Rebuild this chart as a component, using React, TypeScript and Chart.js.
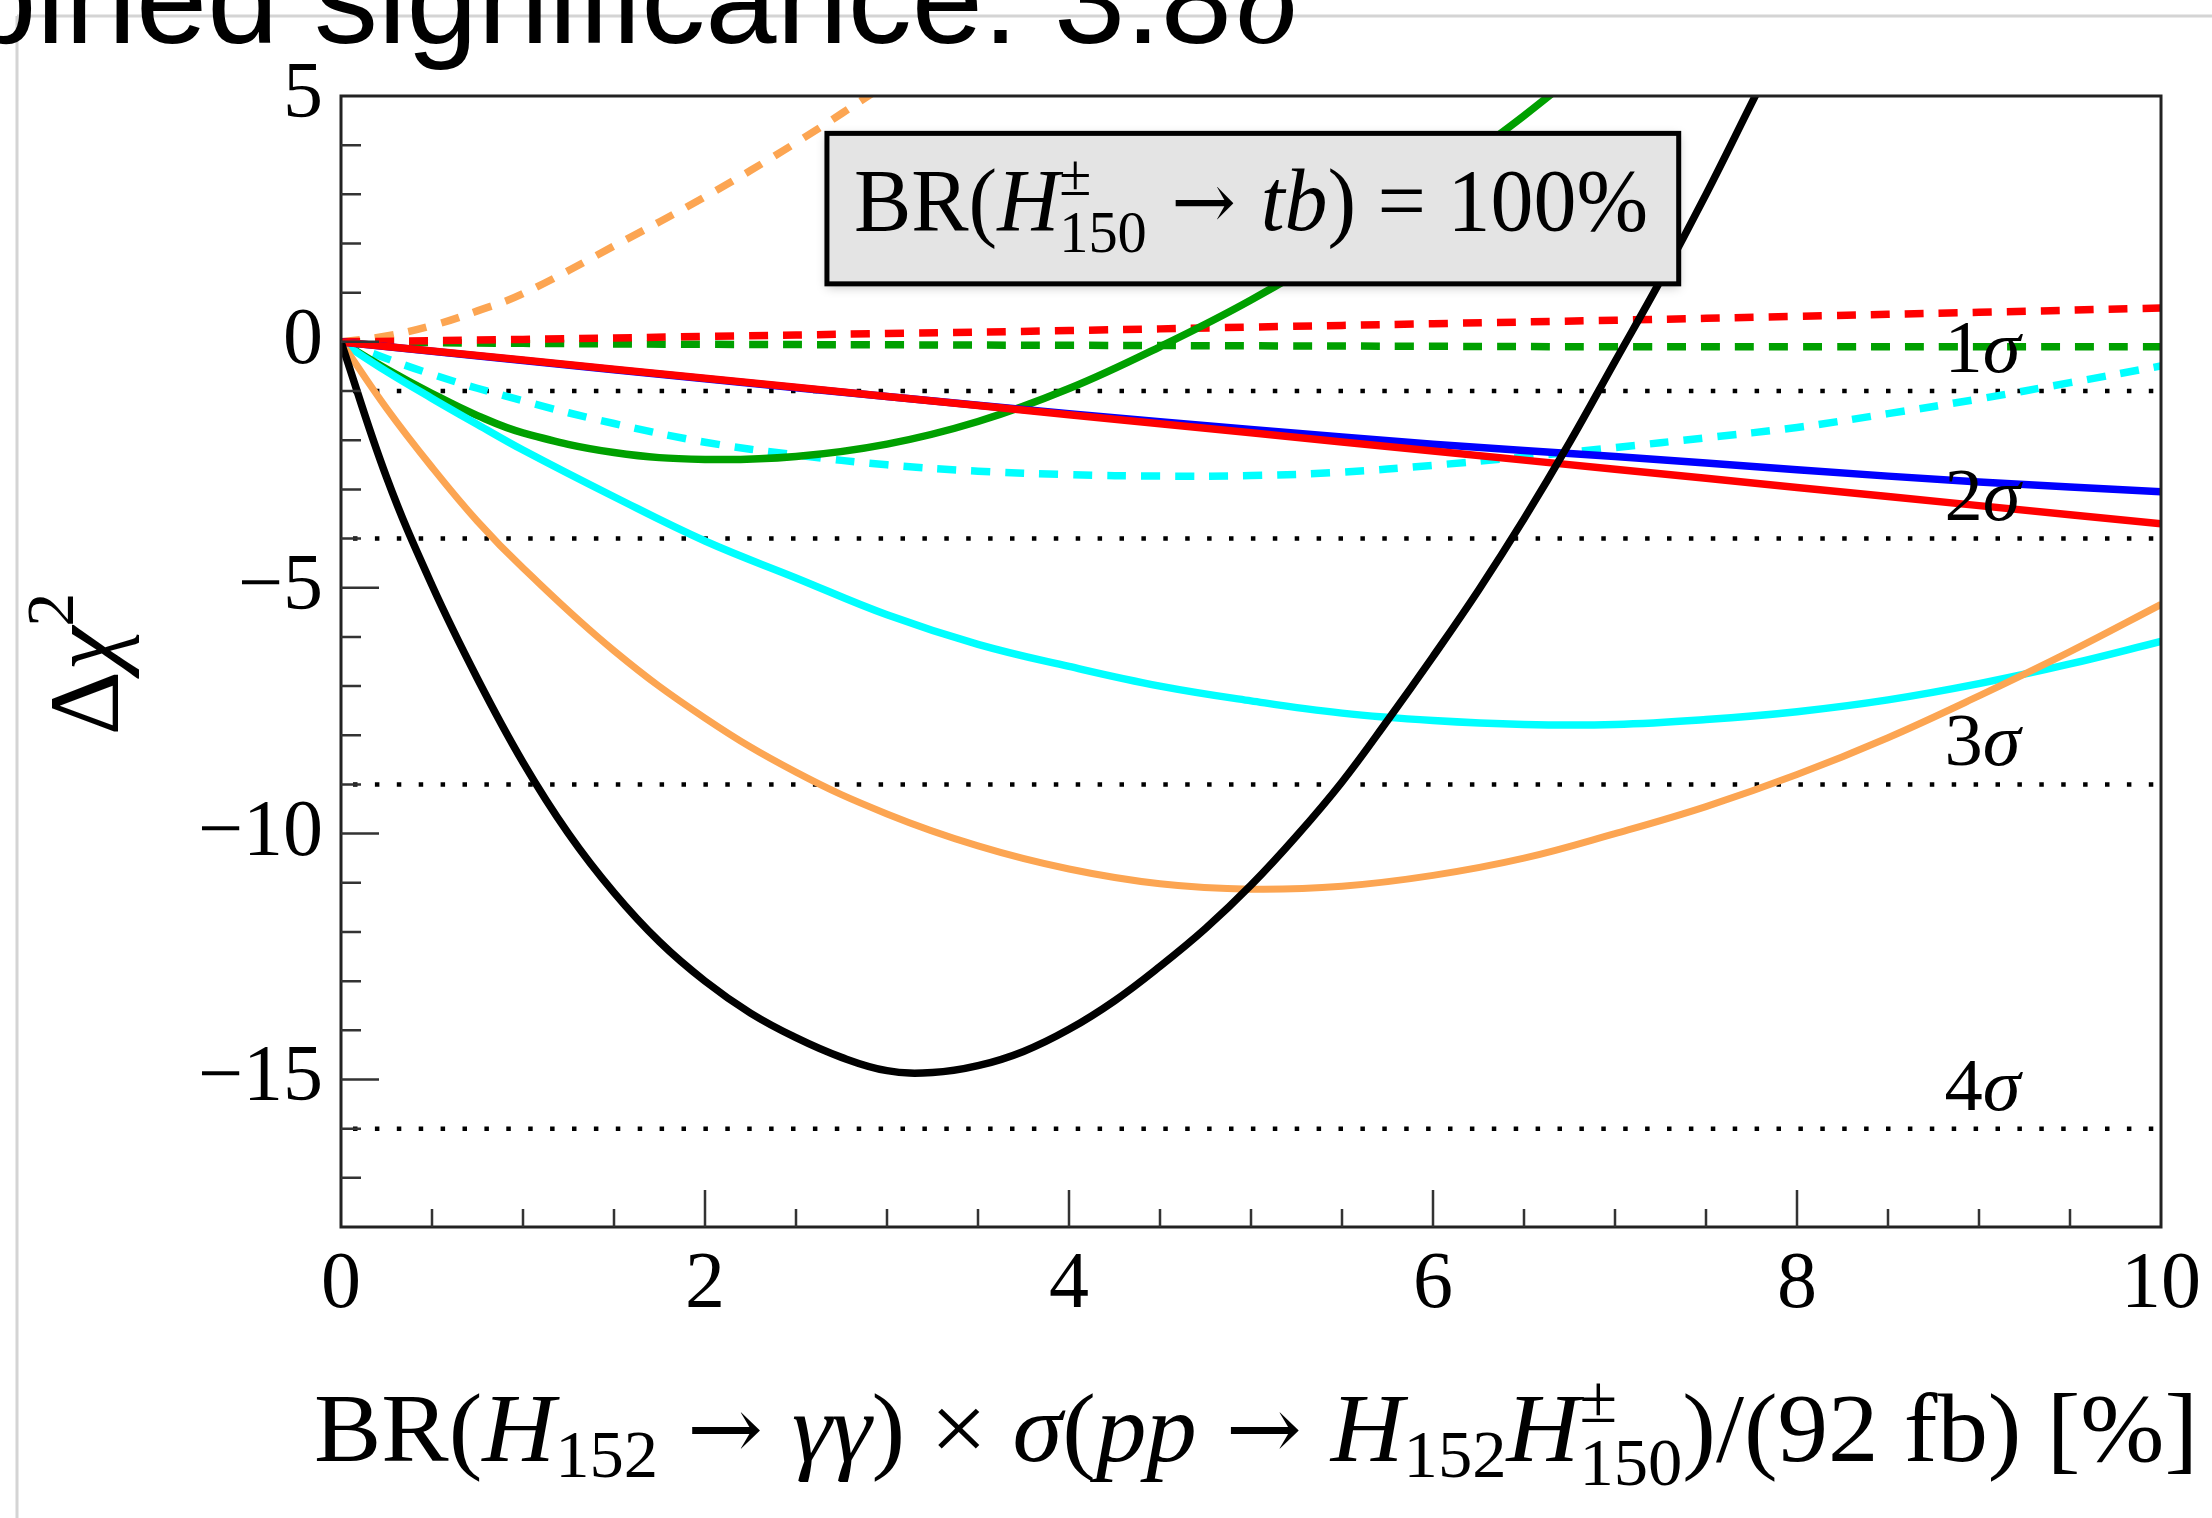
import React, { useEffect, useRef } from 'react';
import { Chart, registerables } from 'chart.js';
Chart.register(...registerables);

// ---------- data ----------
const X_TICKS = [0, 2, 4, 6, 8, 10];
const Y_TICKS = [-15, -10, -5, 0, 5];
const SIGMA_LEVELS = [-1, -4, -9, -16];
const SIGMA_NAMES = ['1', '2', '3', '4'];

const BLACK_X = [0, 0.25, 0.5, 0.75, 1, 1.25, 1.5, 1.75, 2, 2.25, 2.5, 2.75, 3, 3.25, 3.5, 3.75, 4, 4.25, 4.5, 4.75, 5, 5.25, 5.5, 5.75, 6, 6.25, 6.5, 6.75, 7, 7.25, 7.5, 7.75, 8];
const BLACK_Y = [0, -2.75, -4.95, -6.85, -8.55, -10.0, -11.2, -12.2, -13.0, -13.65, -14.15, -14.55, -14.82, -14.86, -14.72, -14.43, -13.98, -13.4, -12.7, -11.93, -11.05, -10.05, -8.95, -7.7, -6.4, -5.05, -3.6, -2.05, -0.4, 1.25, 3.0, 4.85, 6.7];

const FULL_X = [0, 0.25, 0.5, 0.75, 1, 1.5, 2, 2.5, 3, 3.5, 4, 4.5, 5, 5.5, 6, 6.5, 7, 7.5, 8, 8.5, 9, 9.5, 10];
const ORANGE_Y = [0, -1.35, -2.55, -3.65, -4.6, -6.28, -7.65, -8.75, -9.6, -10.25, -10.72, -11.02, -11.13, -11.07, -10.85, -10.5, -10.0, -9.45, -8.8, -8.05, -7.2, -6.3, -5.34];
const CYAN_Y = [0, -0.6, -1.15, -1.68, -2.2, -3.15, -4.05, -4.8, -5.55, -6.15, -6.6, -7.0, -7.3, -7.55, -7.7, -7.78, -7.78, -7.68, -7.52, -7.28, -6.95, -6.55, -6.09];

const GREEN_X = [0, 0.25, 0.5, 0.75, 1, 1.5, 2, 2.5, 3, 3.5, 4, 4.5, 5, 5.5, 6, 6.5, 7];
const GREEN_Y = [0, -0.55, -1.05, -1.5, -1.85, -2.25, -2.39, -2.33, -2.08, -1.62, -0.95, -0.1, 0.85, 1.96, 3.24, 4.6, 6.1];

const UNIT_X = [0, 1, 2, 3, 4, 5, 6, 7, 8, 9, 10];
const BLUE_Y = [0, -0.38, -0.75, -1.11, -1.46, -1.78, -2.08, -2.33, -2.6, -2.85, -3.05];
const RED_Y = [0, -0.37, -0.74, -1.11, -1.48, -1.85, -2.22, -2.59, -2.96, -3.33, -3.7];
const RED_DASH_Y = [0, 0.05, 0.11, 0.17, 0.23, 0.3, 0.37, 0.44, 0.52, 0.6, 0.69];
const GREEN_DASH_Y = [0, -0.03, -0.05, -0.06, -0.07, -0.08, -0.09, -0.1, -0.1, -0.1, -0.1];

const CYAN_DASH_X = [0, 0.5, 1, 1.5, 2, 2.5, 3, 3.5, 4, 4.5, 5, 5.5, 6, 6.5, 7, 7.5, 8, 8.5, 9, 9.5, 10];
const CYAN_DASH_Y = [0, -0.66, -1.2, -1.66, -2.04, -2.3, -2.5, -2.63, -2.7, -2.73, -2.72, -2.65, -2.51, -2.34, -2.15, -1.95, -1.74, -1.46, -1.16, -0.83, -0.49];

const ORANGE_DASH_X = [0, 0.25, 0.5, 0.75, 1, 1.5, 2, 2.5, 3];
const ORANGE_DASH_Y = [0, 0.12, 0.33, 0.63, 0.98, 1.95, 2.95, 4.05, 5.25];

// annotation box (data coords)
const BOX = { x0: 2.67, x1: 7.35, y0: 1.18, y1: 4.24 };
const SIGMA_LABEL_X = 8.81;

// ---------- styles ----------
const SERIF = '"Liberation Serif", "DejaVu Serif", serif';
const ARROWF = '"DejaVu Serif", "Liberation Serif", serif';
const SANS = '"Liberation Sans", Arial, sans-serif';
const C_BLACK = '#000000';
const C_RED = '#ff0000';
const C_BLUE = '#0000ff';
const C_GREEN = '#00a000';
const C_CYAN = '#00ffff';
const C_ORANGE = '#fca552';

const W = 2212;
const H = 1518;

type Seg = { t: string; it?: boolean; pos?: 'sub' | 'sup'; stack?: boolean; dy?: number; sz?: number; f?: string };

function segFont(s: Seg, size: number) {
  const sz = s.sz ? size * s.sz : s.pos ? size * 0.68 : size;
  return `${s.it ? 'italic ' : ''}${sz}px ${s.f || SERIF}`;
}

function drawRich(ctx: CanvasRenderingContext2D, segs: Seg[], x: number, y: number, size: number, align: 'left' | 'center' | 'right', target?: number) {
  const items: { s: Seg; dx: number }[] = [];
  let w = 0;
  let i = 0;
  while (i < segs.length) {
    const s = segs[i];
    ctx.font = segFont(s, size);
    const sw = ctx.measureText(s.t).width;
    if (s.stack && i + 1 < segs.length) {
      const n = segs[i + 1];
      ctx.font = segFont(n, size);
      const nw = ctx.measureText(n.t).width;
      items.push({ s, dx: w });
      items.push({ s: n, dx: w });
      w += Math.max(sw, nw);
      i += 2;
      continue;
    }
    items.push({ s, dx: w });
    w += sw;
    i++;
  }
  const sx = target ? target / w : 1;
  const total = w * sx;
  const x0 = align === 'left' ? x : align === 'center' ? x - total / 2 : x - total;
  ctx.save();
  ctx.translate(x0, y);
  ctx.scale(sx, 1);
  ctx.textAlign = 'left';
  ctx.textBaseline = 'alphabetic';
  ctx.fillStyle = '#000';
  for (const it of items) {
    ctx.font = segFont(it.s, size);
    const dy = it.s.dy !== undefined ? it.s.dy * size : it.s.pos === 'sub' ? 0.16 * size : it.s.pos === 'sup' ? -0.42 * size : 0;
    ctx.fillText(it.s.t, it.dx, dy);
  }
  ctx.restore();
}

const fmt = (v: number | string) => {
  const n = Number(v);
  return n < 0 ? '\u2212' + Math.abs(n) : String(n);
};

const pts = (xs: number[], ys: number[]) => xs.map((x, i) => ({ x, y: ys[i] }));

const ARROW: Seg = { t: ' \u2192 ', f: ARROWF, sz: 0.9, dy: -0.02 };

const decor = {
  id: 'decor',
  beforeDraw(chart: any) {
    const ctx = chart.ctx as CanvasRenderingContext2D;
    ctx.save();
    ctx.fillStyle = '#fff';
    ctx.fillRect(0, 0, W, H);
    ctx.strokeStyle = '#d4d4d4';
    ctx.lineWidth = 3;
    ctx.beginPath();
    ctx.moveTo(17, 16);
    ctx.lineTo(W, 16);
    ctx.moveTo(17, 16);
    ctx.lineTo(17, H);
    ctx.stroke();
    ctx.restore();
  },
  afterDatasetsDraw(chart: any) {
    const ctx = chart.ctx as CanvasRenderingContext2D;
    const xs = chart.scales.x;
    const ys = chart.scales.y;
    const a = chart.chartArea;
    SIGMA_LEVELS.forEach((lv, i) => {
      drawRich(ctx, [{ t: SIGMA_NAMES[i] }, { t: '\u03c3', it: true }], xs.getPixelForValue(SIGMA_LABEL_X), ys.getPixelForValue(lv) - 19, 74, 'left', 76);
    });
    const bx0 = xs.getPixelForValue(BOX.x0);
    const bx1 = xs.getPixelForValue(BOX.x1);
    const by0 = ys.getPixelForValue(BOX.y1);
    const by1 = ys.getPixelForValue(BOX.y0);
    ctx.save();
    ctx.shadowColor = 'rgba(0,0,0,0.25)';
    ctx.shadowBlur = 10;
    ctx.shadowOffsetY = 3;
    ctx.fillStyle = '#e4e4e4';
    ctx.fillRect(bx0, by0, bx1 - bx0, by1 - by0);
    ctx.restore();
    ctx.save();
    ctx.strokeStyle = '#000';
    ctx.lineWidth = 5;
    ctx.strokeRect(bx0, by0, bx1 - bx0, by1 - by0);
    ctx.restore();
    drawRich(
      ctx,
      [
        { t: 'BR(' },
        { t: 'H', it: true },
        { t: '\u00b1', pos: 'sup', stack: true, dy: -0.4 },
        { t: '150', pos: 'sub', dy: 0.25 },
        ARROW,
        { t: 'tb', it: true },
        { t: ') = 100%' },
      ],
      bx0 + 27,
      by0 + 97,
      88,
      'left',
      794
    );
    ctx.save();
    ctx.strokeStyle = '#222';
    ctx.lineWidth = 3;
    ctx.strokeRect(a.left, a.top, a.right - a.left, a.bottom - a.top);
    ctx.lineWidth = 2.5;
    ctx.strokeStyle = '#333';
    ctx.beginPath();
    for (let v = -17; v <= 4; v++) {
      const py = ys.getPixelForValue(v);
      const len = v % 5 === 0 ? 38 : 20;
      ctx.moveTo(a.left, py);
      ctx.lineTo(a.left + len, py);
    }
    for (let k = 1; k < 20; k++) {
      const px = xs.getPixelForValue(k * 0.5);
      const len = k % 4 === 0 ? 37 : 18;
      ctx.moveTo(px, a.bottom);
      ctx.lineTo(px, a.bottom - len);
    }
    ctx.stroke();
    ctx.restore();
  },
  afterDraw(chart: any) {
    const ctx = chart.ctx as CanvasRenderingContext2D;
    drawRich(
      ctx,
      [
        { t: 'BR(' },
        { t: 'H', it: true },
        { t: '152', pos: 'sub' },
        ARROW,
        { t: '\u03b3\u03b3', it: true },
        { t: ') \u00d7 ' },
        { t: '\u03c3', it: true },
        { t: '(' },
        { t: 'pp', it: true },
        ARROW,
        { t: 'H', it: true },
        { t: '152', pos: 'sub' },
        { t: 'H', it: true },
        { t: '\u00b1', pos: 'sup', stack: true, dy: -0.4 },
        { t: '150', pos: 'sub', dy: 0.24 },
        { t: ')/(92 fb) [%]' },
      ],
      314,
      1461,
      98,
      'left',
      1884
    );
    ctx.save();
    ctx.translate(118, 664);
    ctx.rotate(-Math.PI / 2);
    drawRich(ctx, [{ t: '\u0394' }, { t: '\u03c7', it: true }, { t: '2', pos: 'sup', dy: -0.45 }], 0, 0, 100, 'center');
    ctx.restore();
    ctx.save();
    ctx.fillStyle = '#000';
    ctx.textBaseline = 'alphabetic';
    const tsize = 128;
    ctx.font = `italic ${tsize}px ${SERIF}`;
    const sigW = ctx.measureText('\u03c3').width;
    const right = 1299;
    ctx.textAlign = 'right';
    ctx.fillText('\u03c3', right, 43);
    ctx.font = `${tsize}px ${SANS}`;
    ctx.fillText('Combined significance: 3.8', right - sigW - 4, 43);
    ctx.restore();
  },
};

export default function App() {
  const ref = useRef<HTMLCanvasElement | null>(null);
  useEffect(() => {
    if (!ref.current) return;
    const solid = (label: string, data: any[], color: string, width = 7.5) => ({
      label,
      data,
      borderColor: color,
      backgroundColor: color,
      borderWidth: width,
      pointRadius: 0,
      fill: false,
      cubicInterpolationMode: 'default' as const,
      tension: 0.4,
      clip: 0,
    });
    const dashed = (label: string, data: any[], color: string) => ({
      ...solid(label, data, color, 7.5),
      borderDash: [19, 15],
    });
    const sigmaSets = SIGMA_LEVELS.map((lv) => ({
      label: 'sigma ' + lv,
      data: [
        { x: 0, y: lv },
        { x: 10, y: lv },
      ],
      borderColor: '#000',
      borderWidth: 4.5,
      borderDash: [4.5, 17.4],
      borderDashOffset: -12,
      pointRadius: 0,
      fill: false,
      clip: 0,
    }));
    const chart = new Chart(ref.current, {
      type: 'line',
      data: {
        datasets: [
          solid('black', pts(BLACK_X, BLACK_Y), C_BLACK),
          solid('red', pts(UNIT_X, RED_Y), C_RED),
          solid('blue', pts(UNIT_X, BLUE_Y), C_BLUE),
          solid('orange', pts(FULL_X, ORANGE_Y), C_ORANGE, 7),
          solid('cyan', pts(FULL_X, CYAN_Y), C_CYAN),
          solid('green', pts(GREEN_X, GREEN_Y), C_GREEN),
          dashed('red dashed', pts(UNIT_X, RED_DASH_Y), C_RED),
          dashed('green dashed', pts(UNIT_X, GREEN_DASH_Y), C_GREEN),
          dashed('cyan dashed', pts(CYAN_DASH_X, CYAN_DASH_Y), C_CYAN),
          dashed('orange dashed', pts(ORANGE_DASH_X, ORANGE_DASH_Y), C_ORANGE),
          ...sigmaSets,
        ] as any,
      },
      options: {
        animation: false,
        responsive: false,
        devicePixelRatio: 1,
        parsing: false as any,
        layout: { padding: { left: 0, top: 96, right: 40, bottom: 0 } },
        plugins: {
          legend: { display: false },
          tooltip: { enabled: false },
          title: { display: false },
        },
        scales: {
          x: {
            type: 'linear',
            min: 0,
            max: 10,
            grid: { display: false, drawTicks: false, tickLength: 0 },
            border: { display: false },
            afterBuildTicks: (s: any) => {
              s.ticks = X_TICKS.map((v) => ({ value: v }));
            },
            afterFit: (s: any) => {
              s.height = 291;
            },
            ticks: {
              font: { family: SERIF, size: 80 },
              color: '#000',
              padding: 11,
              maxRotation: 0,
              autoSkip: false,
              callback: fmt,
            },
          },
          y: {
            type: 'linear',
            min: -18,
            max: 5,
            grid: { display: false, drawTicks: false, tickLength: 0 },
            border: { display: false },
            afterBuildTicks: (s: any) => {
              s.ticks = Y_TICKS.map((v) => ({ value: v }));
            },
            afterFit: (s: any) => {
              s.width = 341;
            },
            ticks: {
              font: { family: SERIF, size: 80 },
              color: '#000',
              padding: 18,
              autoSkip: false,
              callback: fmt,
            },
          },
        },
      } as any,
      plugins: [decor],
    });
    return () => chart.destroy();
  }, []);
  return (
    <div style={{ position: 'fixed', left: 0, top: 0, width: W, height: H, background: '#fff' }}>
      <canvas ref={ref} width={W} height={H} style={{ width: W, height: H, display: 'block' }} />
    </div>
  );
}
